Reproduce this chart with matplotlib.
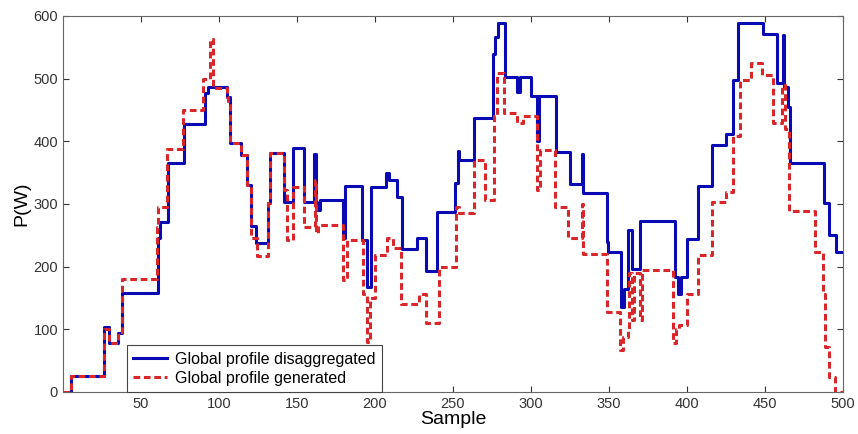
import numpy as np
import matplotlib
matplotlib.use("Agg")
import matplotlib.pyplot as plt

plt.rcParams["font.family"] = ["Liberation Sans", "DejaVu Sans"]

# step profiles: sample where each level starts, and the level (W)
blueX = [0, 5, 26, 29.5, 35, 38, 61, 62, 67.5, 77.7, 91, 93, 105, 107, 114, 118,
         120.5, 124, 131.5, 133, 142, 147.5, 154.5, 161, 162, 163, 164.7, 179.5,
         181, 191.7, 195, 197.4, 207, 209, 214, 217, 227, 232.7, 240, 251, 253,
         254, 263.6, 275.6, 277, 279, 283.5, 291, 293, 300, 304, 305, 316, 325,
         332.5, 333.5, 348.7, 349.5, 357.7, 359.5, 362, 364.7, 370, 392, 394,
         396, 400, 407, 416, 425, 429.5, 433, 449, 457.7, 461.5, 462.5, 465,
         466, 488, 491, 495.5, 500]
blueY = [0, 25, 103, 78, 94, 158, 245, 272, 365, 427, 477, 486, 470, 397, 378,
         330, 265, 238, 301, 381, 303, 389, 303, 380, 303, 290, 307, 245, 329,
         243, 168, 327, 349, 339, 311, 228, 245, 193, 287, 333, 385, 370, 437,
         540, 566, 589, 502, 479, 502, 472, 400, 472, 383, 332, 380, 318, 240,
         223, 136, 165, 258, 197, 273, 183, 157, 183, 244, 329, 394, 411, 498,
         589, 572, 493, 570, 486, 455, 365, 301, 250, 223, 223]

redX = [0, 5, 26, 29.5, 35, 38, 60, 61, 66.5, 77, 90, 94.5, 96, 105, 106, 107,
        114, 118, 120.5, 124.6, 131.6, 133, 141.8, 143.6, 147.5, 154.5, 161.5,
        162.5, 163.5, 179.5, 181.8, 192, 195, 197, 200, 207.6, 211.5, 216.7,
        228, 232.7, 241, 252, 254, 263.6, 270.5, 276, 278, 283, 291, 295, 304,
        305.8, 315.5, 324, 332.5, 333.5, 348.7, 357, 359, 362, 363, 365, 366,
        370, 371, 391, 393, 395, 400, 407, 416, 425, 429.5, 434, 441, 448, 455,
        461, 463, 465.5, 482, 487, 488.5, 491, 494.8, 500]
redY = [0, 25, 100, 78, 95, 180, 263, 295, 387, 450, 500, 563, 485, 470, 458,
        397, 378, 330, 245, 217, 301, 381, 322, 242, 327, 263, 338, 253, 266,
        179, 242, 157, 80, 150, 218, 245, 229, 141, 157, 110, 200, 295,
        285, 370, 306, 440, 509, 445, 429, 440, 322, 386, 295, 245, 300, 220,
        127, 67, 88, 100, 190, 115, 190, 115, 195, 78, 100, 107, 156, 218, 303,
        319, 408, 498, 525, 506, 430, 490, 420, 289, 223, 157, 72, 24, 0, 0]

fig = plt.figure(figsize=(8.58, 4.34), dpi=100)
ax = fig.add_axes([0.0734, 0.0968, 0.9091, 0.8664])

ax.plot(blueX, blueY, drawstyle="steps-post", color="#0a0ab4", lw=2.2,
        label="Global profile disaggregated")
ax.plot(redX, redY, drawstyle="steps-post", color="#d8262a", lw=2.2,
        linestyle=(0, (2.2, 1.2)), label="Global profile generated")

ax.set_xlim(0, 500)
ax.set_ylim(0, 600)
ax.set_xticks(np.arange(50, 501, 50))
ax.set_yticks(np.arange(0, 601, 100))
ax.tick_params(direction="in", top=True, right=True, labelsize=10.5,
               colors="#333333", length=4)
for s in ax.spines.values():
    s.set_color("#666666")
ax.set_xlabel("Sample", fontsize=14, labelpad=0)
ax.set_ylabel("P(W)", fontsize=14, labelpad=2)

leg = ax.legend(loc="lower left", bbox_to_anchor=(0.082, 0.0), borderaxespad=0,
                fontsize=11.5, fancybox=False, framealpha=1, edgecolor="#444444",
                handlelength=2.1, handletextpad=0.5, borderpad=0.4,
                labelspacing=0.25)
leg.get_frame().set_linewidth(0.8)

fig.savefig("out.png", dpi=100)
